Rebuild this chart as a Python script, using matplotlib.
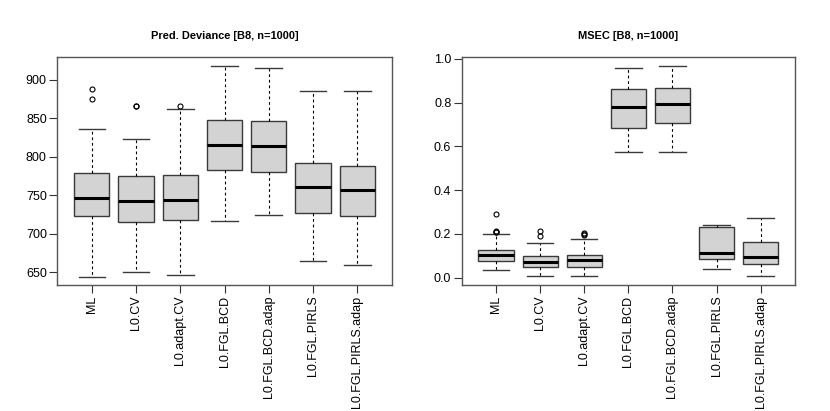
import matplotlib
matplotlib.use("Agg")
import matplotlib.pyplot as plt

plt.rcParams["font.family"] = ["Liberation Sans", "DejaVu Sans"]

methods = ["ML", "L0.CV", "L0.adapt.CV", "L0.FGL.BCD", "L0.FGL.BCD.adap",
           "L0.FGL.PIRLS", "L0.FGL.PIRLS.adap"]

# Pred. Deviance: whiskers, quartiles, medians, outliers
dev_whislo = [644.4, 650.0, 647.0, 716.3, 724.1, 664.7, 660.0]
dev_q1 = [723.2, 715.0, 717.6, 782.6, 780.8, 727.6, 722.8]
dev_med = [746.2, 743.2, 744.4, 815.5, 814.6, 760.5, 757.0]
dev_q3 = [779.1, 774.8, 776.1, 847.6, 846.3, 792.1, 788.6]
dev_whishi = [835.9, 823.7, 862.7, 917.8, 915.6, 885.7, 886.1]
dev_fliers = [[888.3, 874.9], [866.4, 865.8], [866.6], [], [], [], []]

# MSEC
msec_whislo = [0.034, 0.006, 0.006, 0.573, 0.575, 0.041, 0.006]
msec_q1 = [0.076, 0.047, 0.050, 0.684, 0.707, 0.084, 0.061]
msec_med = [0.102, 0.070, 0.079, 0.782, 0.796, 0.111, 0.096]
msec_q3 = [0.128, 0.098, 0.104, 0.864, 0.869, 0.233, 0.165]
msec_whishi = [0.201, 0.159, 0.177, 0.960, 0.966, 0.241, 0.274]
msec_fliers = [[0.290, 0.214, 0.210, 0.207], [0.215, 0.191], [0.206, 0.194, 0.200],
               [], [], [], []]


def make_stats(lo, q1, med, q3, hi, fl):
    return [dict(label=m, whislo=a, q1=b, med=c, q3=d, whishi=e, fliers=f)
            for m, a, b, c, d, e, f in zip(methods, lo, q1, med, q3, hi, fl)]


def draw(ax, stats, title, yticks, ylim):
    ax.bxp(stats, positions=range(1, len(stats) + 1), widths=0.8,
           patch_artist=True, capwidths=0.6,
           boxprops=dict(facecolor="#d3d3d3", edgecolor="#3a3a3a", linewidth=1.0),
           medianprops=dict(color="black", linewidth=2.2),
           whiskerprops=dict(color="black", linewidth=0.8, linestyle=(0, (2.5, 2.5))),
           capprops=dict(color="#3a3a3a", linewidth=1.0),
           flierprops=dict(marker="o", markerfacecolor="none",
                           markeredgecolor="black", markersize=3.6,
                           markeredgewidth=0.8))
    ax.set_xlim(0.22, 7.78)
    ax.set_ylim(*ylim)
    ax.set_yticks(yticks)
    ax.set_xticks(range(1, len(stats) + 1))
    ax.set_xticklabels(methods, rotation=90, fontsize=9)
    ax.tick_params(axis="both", direction="out", length=5.5, width=0.8,
                   color="#333333", labelsize=9, pad=2)
    for s in ax.spines.values():
        s.set_color("#555555")
        s.set_linewidth(1.0)
    ax.set_title(title, fontsize=7.9, fontweight="bold", pad=13)


fig = plt.figure(figsize=(8.3, 4.11), dpi=100)
ax1 = fig.add_axes([0.069, 0.3066, 0.403, 0.554])
ax2 = fig.add_axes([0.5563, 0.3066, 0.4015, 0.554])

draw(ax1, make_stats(dev_whislo, dev_q1, dev_med, dev_q3, dev_whishi, dev_fliers),
     "Pred. Deviance [B8, n=1000]", [650, 700, 750, 800, 850, 900], (633.5, 929.5))
draw(ax2, make_stats(msec_whislo, msec_q1, msec_med, msec_q3, msec_whishi, msec_fliers),
     "MSEC [B8, n=1000]", [0.0, 0.2, 0.4, 0.6, 0.8, 1.0], (-0.0335, 1.0076))
ax2.set_yticklabels(["0.0", "0.2", "0.4", "0.6", "0.8", "1.0"])

fig.savefig("out.png", dpi=100)
